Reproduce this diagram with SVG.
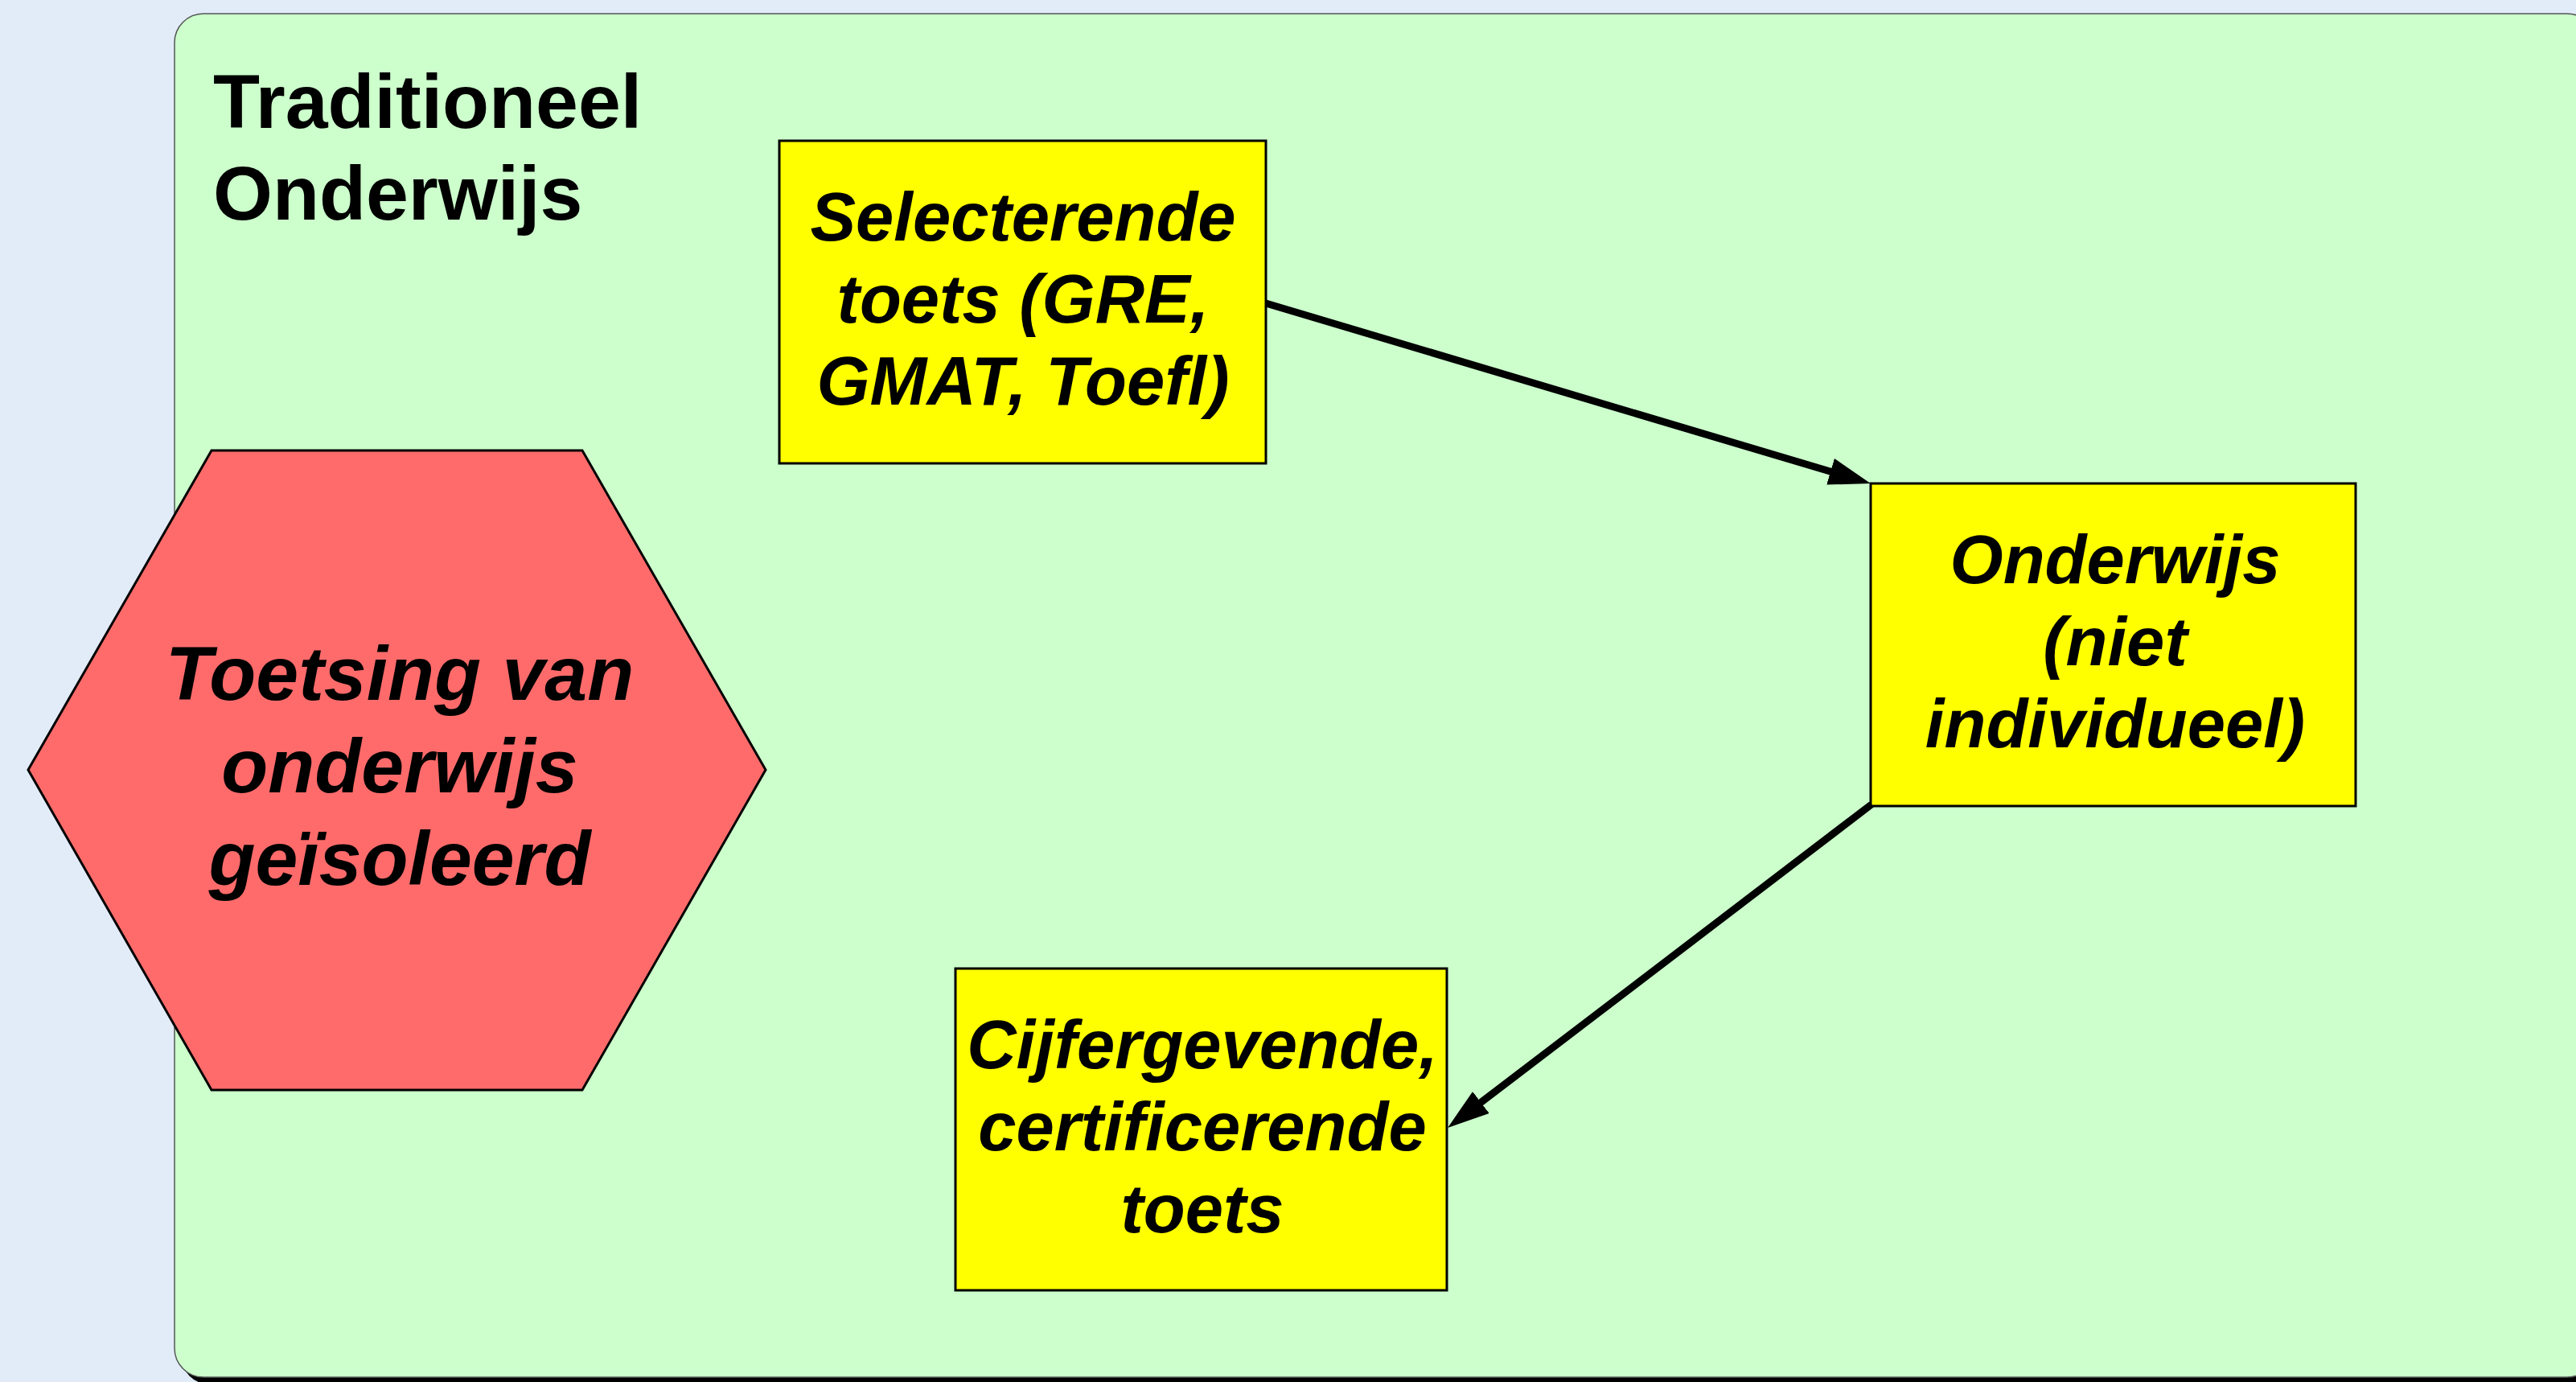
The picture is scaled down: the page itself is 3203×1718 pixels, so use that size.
<svg xmlns="http://www.w3.org/2000/svg" width="3203" height="1718" viewBox="0 0 3203 1718">
<style>
.box{fill:#FFFF00;stroke:#000;stroke-width:3}
.t{font-family:"Liberation Sans",Arial,sans-serif;font-weight:bold;font-style:italic;font-size:85px;fill:#000;text-anchor:middle}
.h{font-family:"Liberation Sans",Arial,sans-serif;font-weight:bold;font-style:italic;font-size:95px;fill:#000;text-anchor:middle}
.title{font-family:"Liberation Sans",Arial,sans-serif;font-weight:bold;font-size:95px;fill:#000}
.conn{stroke:#000;stroke-width:9;fill:none}
</style>
<defs>
<marker id="ah" markerUnits="userSpaceOnUse" markerWidth="54" markerHeight="34" refX="2" refY="17" orient="auto" viewBox="0 0 54 34">
<path d="M0,0 L52,17 L0,34 z" fill="#000"/>
</marker>
</defs>
<rect width="3203" height="1718" fill="#E2ECF9"/>
<g id="panel">
<rect x="225" y="26" width="3011" height="1695" rx="36" ry="36" fill="#000"/>
<rect x="217" y="17" width="3011" height="1695" rx="36" ry="36" fill="#CCFFCC" stroke="#555" stroke-width="1.5"/>
<text class="title" x="265" y="159">Traditioneel</text>
<text class="title" x="265" y="273">Onderwijs</text>
</g>
<g id="hexagon">
<polygon points="35,957 263,560 724,560 952,957 724,1355 263,1355" fill="#FF6B6B" stroke="#000" stroke-width="3"/>
<text class="h" x="497" y="870">Toetsing van</text>
<text class="h" x="497" y="985">onderwijs</text>
<text class="h" x="497" y="1100">geïsoleerd</text>
</g>
<g id="selecterende">
<rect class="box" x="969" y="175" width="605" height="401"/>
<text class="t" x="1272" y="299">Selecterende</text>
<text class="t" x="1272" y="401">toets (GRE,</text>
<text class="t" x="1272" y="503">GMAT, Toefl)</text>
</g>
<g id="onderwijs">
<rect class="box" x="2326" y="601" width="603" height="401"/>
<text class="t" x="2630" y="725">Onderwijs</text>
<text class="t" x="2630" y="827">(niet</text>
<text class="t" x="2630" y="929">individueel)</text>
</g>
<g id="cijfergevende">
<rect class="box" x="1188" y="1204" width="611" height="400"/>
<text class="t" x="1495" y="1328">Cijfergevende,</text>
<text class="t" x="1495" y="1430">certificerende</text>
<text class="t" x="1495" y="1532">toets</text>
</g>
<g id="connectors">
<line class="conn" x1="1574" y1="377" x2="2278" y2="586.8" marker-end="url(#ah)"/>
<line class="conn" x1="2327" y1="1000" x2="1839.8" y2="1371.7" marker-end="url(#ah)"/>
</g>
</svg>
